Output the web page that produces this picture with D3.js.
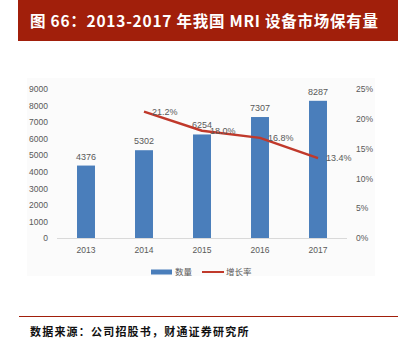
<!DOCTYPE html>
<html><head><meta charset="utf-8">
<script src="https://cdn.jsdelivr.net/npm/d3@7"></script>
<style>html,body{margin:0;padding:0;background:#fff;}svg{display:block;}</style>
</head><body>
<svg id="c" width="402" height="347"></svg>
<script>
const years = ["2013","2014","2015","2016","2017"];
const counts = [4376, 5302, 6254, 7307, 8287];
const growthYears = ["2014","2015","2016","2017"];
const growth = [21.2, 18.0, 16.8, 13.4];
const leftTicks = [0,1000,2000,3000,4000,5000,6000,7000,8000,9000];
const rightTicks = [0,5,10,15,20,25];
const legendLabels = ["数量","增长率"];
const titleText = "图 66：2013-2017 年我国 MRI 设备市场保有量";
const sourceText = "数据来源：公司招股书，财通证券研究所";

const svg = d3.select("#c");
const axisFont = "'Liberation Sans', 'DejaVu Sans', sans-serif";
const cjk = "'Noto Sans CJK SC', sans-serif";
const blue = "#4a7ebb", red = "#c0392b", gray = "#595959";

// title bar
svg.append("rect").attr("x",18).attr("y",0).attr("width",380).attr("height",41).attr("fill","#a11f0b");
svg.append("text").attr("x",30).attr("y",27).attr("fill","#fff")
  .style("font-family",cjk).style("font-weight","bold").style("font-size","15.5px")
  .style("letter-spacing","0.75px").text(titleText);

// chart panel
svg.append("rect").attr("x",27).attr("y",78).attr("width",348).attr("height",198).attr("fill","#fbfbfb");

const x = d3.scaleBand().domain(years).range([57,347]).paddingInner(0.69).paddingOuter(0.345);
const yL = d3.scaleLinear().domain([0,9000]).range([238,89]);
const yR = d3.scaleLinear().domain([0,25]).range([238,89]);

const gL = svg.append("g").attr("transform","translate(50,0)")
  .call(d3.axisLeft(yL).tickValues(leftTicks).tickSize(0).tickPadding(2).tickFormat(d3.format("d")));
gL.select(".domain").remove();
gL.selectAll("text").attr("fill",gray).style("font-family",axisFont).style("font-size","8.5px");

const gR = svg.append("g").attr("transform","translate(354,0)")
  .call(d3.axisRight(yR).tickValues(rightTicks).tickSize(0).tickPadding(2).tickFormat(d=>d+"%"));
gR.select(".domain").remove();
gR.selectAll("text").attr("fill",gray).style("font-family",axisFont).style("font-size","8.5px");

// baseline
svg.append("line").attr("x1",57).attr("x2",347).attr("y1",238.5).attr("y2",238.5).attr("stroke","#d9d9d9").attr("stroke-width",1);

const gX = svg.append("g").attr("transform","translate(0,238)")
  .call(d3.axisBottom(x).tickSize(0).tickPadding(9));
gX.select(".domain").remove();
gX.selectAll("text").attr("fill",gray).style("font-family",axisFont).style("font-size","8.5px");

// bars
svg.selectAll("rect.bar").data(years).enter().append("rect").attr("class","bar")
  .attr("x",d=>x(d)).attr("width",x.bandwidth())
  .attr("y",(d,i)=>yL(counts[i])).attr("height",(d,i)=>yL(0)-yL(counts[i]))
  .attr("fill",blue);
svg.selectAll("text.bl").data(years).enter().append("text").attr("class","bl")
  .attr("x",d=>x(d)+x.bandwidth()/2).attr("y",(d,i)=>yL(counts[i])-6)
  .attr("text-anchor","middle").attr("fill",gray)
  .style("font-family",axisFont).style("font-size","9px").text((d,i)=>counts[i]);

// line
const cx = d=>x(d)+x.bandwidth()/2;
const line = d3.line().x((d,i)=>cx(growthYears[i])).y(d=>yR(d));
svg.append("path").datum(growth).attr("d",line).attr("fill","none")
  .attr("stroke",red).attr("stroke-width",2.5).attr("stroke-linejoin","round");
svg.selectAll("text.gl").data(growth).enter().append("text").attr("class","gl")
  .attr("x",(d,i)=>cx(growthYears[i])+8).attr("y",d=>yR(d)+3)
  .attr("fill",gray).style("font-family",axisFont).style("font-size","9px")
  .text(d=>d.toFixed(1)+"%");

// legend
svg.append("rect").attr("x",151).attr("y",269.5).attr("width",21).attr("height",5).attr("fill",blue);
svg.append("text").attr("x",175).attr("y",275).attr("fill",gray).style("font-family",cjk).style("font-size","8.5px").text(legendLabels[0]);
svg.append("line").attr("x1",202).attr("x2",224).attr("y1",272).attr("y2",272).attr("stroke",red).attr("stroke-width",2);
svg.append("text").attr("x",226).attr("y",275).attr("fill",gray).style("font-family",cjk).style("font-size","8.5px").text(legendLabels[1]);

// source
svg.append("line").attr("x1",19).attr("x2",398).attr("y1",316.5).attr("y2",316.5).attr("stroke","#a11f0b").attr("stroke-width",1.2);
svg.append("text").attr("x",30).attr("y",336).attr("fill","#111").style("font-family",cjk).style("font-weight","bold").style("font-size","11px")
  .style("letter-spacing","1.2px").text(sourceText);
</script>
</body></html>
